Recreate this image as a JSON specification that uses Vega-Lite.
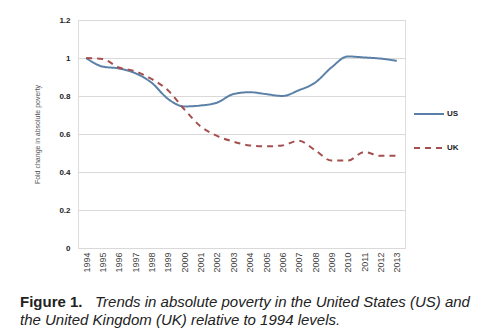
{
  "$schema": "https://vega.github.io/schema/vega-lite/v6.json",
  "width": 327,
  "height": 228,
  "autosize": {"type": "none"},
  "padding": {"left": 78, "top": 20, "right": 86, "bottom": 85},
  "background": "white",
  "title": {
    "text": "Figure 1.",
    "subtitle": ["\u200b\u00a0\u00a0\u00a0\u00a0\u00a0\u00a0\u00a0\u00a0\u00a0\u00a0\u00a0\u00a0\u00a0\u00a0\u00a0\u00a0\u00a0\u00a0Trends in absolute poverty in the United States (US) and", "the United Kingdom (UK) relative to 1994 levels."],
    "orient": "bottom",
    "anchor": "start",
    "frame": "group",
    "dx": -58,
    "offset": 23,
    "font": "Liberation Sans",
    "fontSize": 15,
    "fontWeight": "bold",
    "color": "#222222",
    "subtitleFont": "Liberation Sans",
    "subtitleFontSize": 15,
    "subtitleFontStyle": "italic",
    "subtitleColor": "#222222",
    "subtitleLineHeight": 18,
    "subtitlePadding": -15
  },
  "data": {
    "values": [
      {"year": "1994", "country": "US", "value": 1.0},
      {"year": "1995", "country": "US", "value": 0.955},
      {"year": "1996", "country": "US", "value": 0.945},
      {"year": "1997", "country": "US", "value": 0.92},
      {"year": "1998", "country": "US", "value": 0.87},
      {"year": "1999", "country": "US", "value": 0.785},
      {"year": "2000", "country": "US", "value": 0.745},
      {"year": "2001", "country": "US", "value": 0.75},
      {"year": "2002", "country": "US", "value": 0.765},
      {"year": "2003", "country": "US", "value": 0.81},
      {"year": "2004", "country": "US", "value": 0.82},
      {"year": "2005", "country": "US", "value": 0.81},
      {"year": "2006", "country": "US", "value": 0.80},
      {"year": "2007", "country": "US", "value": 0.83},
      {"year": "2008", "country": "US", "value": 0.87},
      {"year": "2009", "country": "US", "value": 0.95},
      {"year": "2010", "country": "US", "value": 1.008},
      {"year": "2011", "country": "US", "value": 1.003},
      {"year": "2012", "country": "US", "value": 0.997},
      {"year": "2013", "country": "US", "value": 0.985},
      {"year": "1994", "country": "UK", "value": 1.0},
      {"year": "1995", "country": "UK", "value": 0.995},
      {"year": "1996", "country": "UK", "value": 0.95},
      {"year": "1997", "country": "UK", "value": 0.93},
      {"year": "1998", "country": "UK", "value": 0.89},
      {"year": "1999", "country": "UK", "value": 0.83},
      {"year": "2000", "country": "UK", "value": 0.73},
      {"year": "2001", "country": "UK", "value": 0.64},
      {"year": "2002", "country": "UK", "value": 0.59},
      {"year": "2003", "country": "UK", "value": 0.56},
      {"year": "2004", "country": "UK", "value": 0.54},
      {"year": "2005", "country": "UK", "value": 0.535},
      {"year": "2006", "country": "UK", "value": 0.54},
      {"year": "2007", "country": "UK", "value": 0.565},
      {"year": "2008", "country": "UK", "value": 0.515},
      {"year": "2009", "country": "UK", "value": 0.46},
      {"year": "2010", "country": "UK", "value": 0.46},
      {"year": "2011", "country": "UK", "value": 0.505},
      {"year": "2012", "country": "UK", "value": 0.485},
      {"year": "2013", "country": "UK", "value": 0.485}
    ]
  },
  "mark": {"type": "line", "strokeWidth": 2, "interpolate": "monotone"},
  "encoding": {
    "x": {
      "field": "year",
      "type": "ordinal",
      "scale": {"type": "point", "padding": 0.5},
      "axis": {
        "title": null,
        "labelAngle": -90,
        "labelAlign": "right",
        "labelBaseline": "middle",
        "labelFont": "Liberation Sans",
        "labelFontSize": 9,
        "labelColor": "#444444",
        "labelPadding": 4,
        "ticks": false,
        "domain": false,
        "grid": false
      }
    },
    "y": {
      "field": "value",
      "type": "quantitative",
      "scale": {"domain": [0, 1.2], "nice": false},
      "axis": {
        "values": [0, 0.2, 0.4, 0.6, 0.8, 1, 1.2],
        "format": "~g",
        "title": "Fold change in absolute poverty",
        "titleFont": "Liberation Sans",
        "titleFontSize": 7,
        "titleFontWeight": "normal",
        "titleColor": "#555555",
        "titlePadding": 18,
        "labelFont": "Liberation Sans",
        "labelFontSize": 8,
        "labelFontWeight": "bold",
        "labelColor": "#222222",
        "labelPadding": 8,
        "ticks": false,
        "domain": false,
        "grid": true,
        "gridColor": "#d9d9d9",
        "gridWidth": 1
      }
    },
    "color": {
      "field": "country",
      "type": "nominal",
      "scale": {"domain": ["US", "UK"], "range": ["#5b80a8", "#a5504e"]},
      "legend": {
        "title": null,
        "orient": "none",
        "legendX": 335,
        "legendY": 78,
        "symbolType": "stroke",
        "symbolSize": 900,
        "symbolStrokeWidth": 2,
        "labelFont": "Liberation Sans",
        "labelFontSize": 8,
        "labelFontWeight": "bold",
        "labelColor": "#222222",
        "rowPadding": 14,
        "labelOffset": 2
      }
    },
    "strokeDash": {
      "field": "country",
      "type": "nominal",
      "scale": {"domain": ["US", "UK"], "range": [[1, 0], [6, 5]]},
      "legend": null
    }
  }
}
